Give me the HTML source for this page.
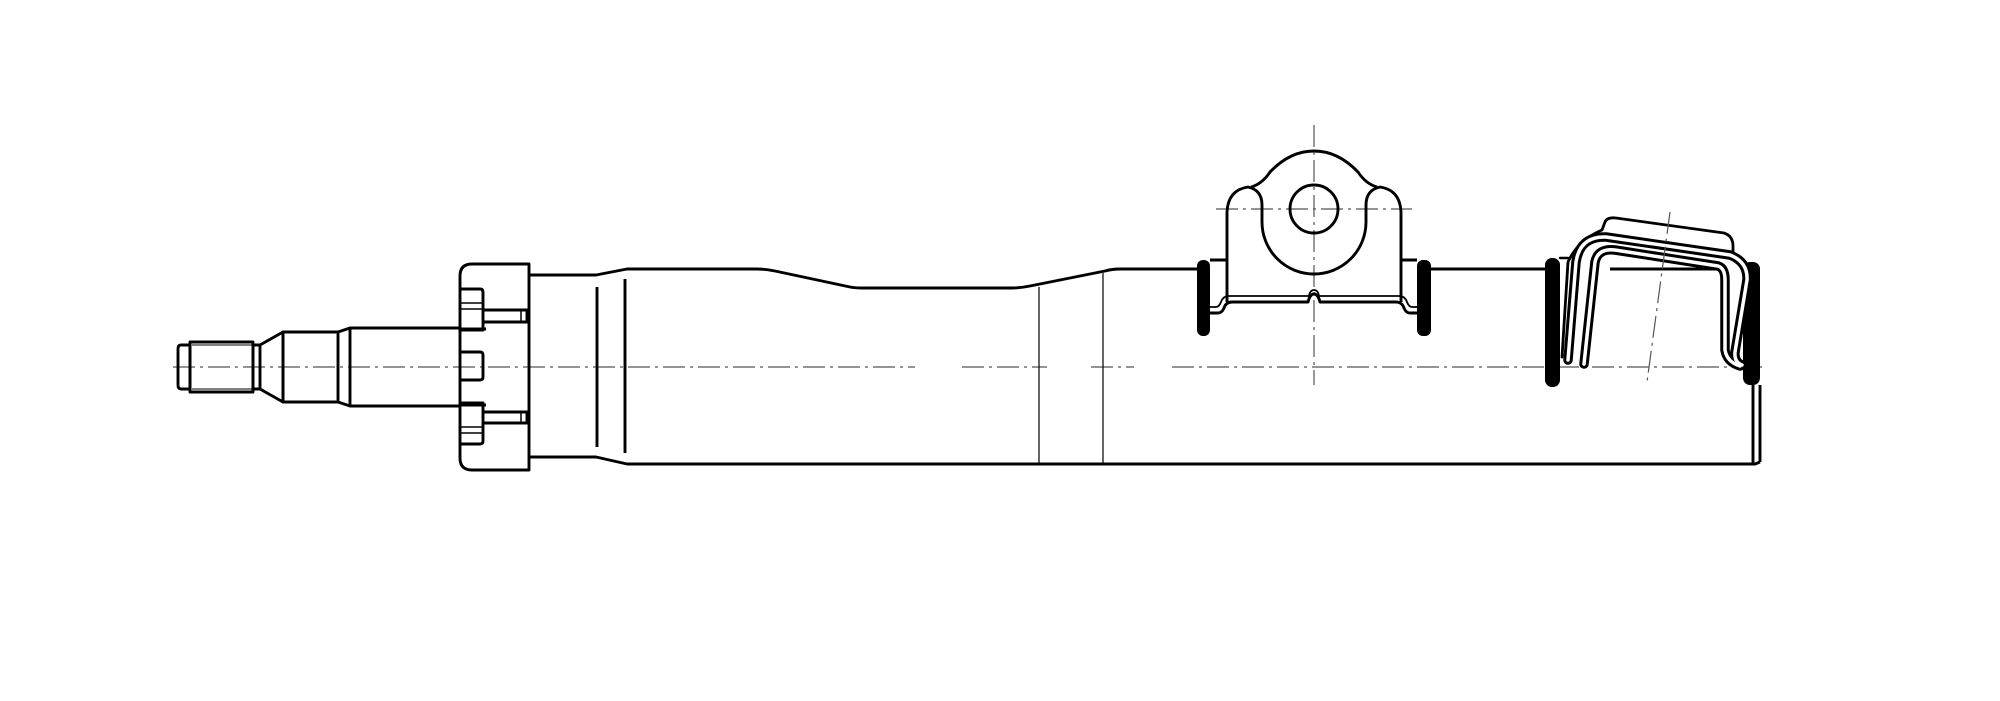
<!DOCTYPE html>
<html><head><meta charset="utf-8"><style>html,body{margin:0;padding:0;background:#fff}svg{display:block}</style></head>
<body>
<svg width="2000" height="701" viewBox="0 0 2000 701" xmlns="http://www.w3.org/2000/svg">
<g fill="none" stroke="#000" stroke-width="2.9" stroke-linejoin="round">
<!-- centerline -->
<line x1="173" y1="367" x2="915" y2="367" stroke="#555" stroke-width="1.3" stroke-dasharray="22,5,3,5"/>
<line x1="962" y1="367" x2="1047" y2="367" stroke="#555" stroke-width="1.3" stroke-dasharray="22,5,3,5"/>
<line x1="1091" y1="367" x2="1134" y2="367" stroke="#555" stroke-width="1.3" stroke-dasharray="22,5,3,5"/>
<line x1="1172" y1="367" x2="1765" y2="367" stroke="#555" stroke-width="1.3" stroke-dasharray="22,5,3,5"/>
<!-- threaded end -->
<path d="M190,345 L181,345 Q178,345 178,349 L178,385 Q178,389 181,389 L190,389 Z"/>
<rect x="190" y="342" width="63" height="50"/>
<line x1="192" y1="345" x2="252" y2="345" stroke-width="1"/>
<line x1="192" y1="389" x2="252" y2="389" stroke-width="1"/>
<rect x="253" y="345" width="7" height="44"/>
<path d="M260,345 L283,332 L283,402 L260,389"/>
<rect x="283" y="332" width="55" height="70"/>
<path d="M338,332 L350,328 L350,406 L338,402"/>
<path d="M350,328 L460,328 M350,406 L460,406"/>
<!-- nut -->
<path d="M529,264 L472,264 Q460,264 460,276 L460,458 Q460,470 472,470 L529,470 Z"/>
<path d="M460,289 L480,289 Q483,289 483,292 L483,330 L460,330"/>
<line x1="460" y1="303" x2="483" y2="303" stroke-width="1.5"/>
<line x1="460" y1="309" x2="483" y2="309" stroke-width="1.5"/>
<path d="M483,310 L527,310 L527,322 L483,322"/>
<line x1="521" y1="310" x2="521" y2="322" stroke-width="1.5"/>
<path d="M460,352 L480,352 Q483,352 483,355 L483,377 Q483,380 480,380 L460,380"/>
<path d="M460,403 L483,403 L483,441 Q483,444 480,444 L460,444"/>
<line x1="460" y1="427" x2="483" y2="427" stroke-width="1.5"/>
<line x1="460" y1="433" x2="483" y2="433" stroke-width="1.5"/>
<path d="M483,412 L527,412 L527,423 L483,423"/>
<line x1="521" y1="412" x2="521" y2="423" stroke-width="1.5"/>
<path d="M460,329 L486,329 M460,405 L486,405" stroke-width="3"/>
<!-- body -->
<path d="M529,275 L596,275 L627,269 L757,269 Q765,269 775,271 L850,287 Q855,288 862,288 L1012,288 Q1020,288 1030,286 L1105,271 Q1112,269 1120,269 L1199,269"/>
<path d="M529,457 L596,457 L627,464 L1755,464 L1760,462"/>
<line x1="597" y1="287" x2="597" y2="447"/>
<line x1="625" y1="279" x2="625" y2="453"/>
<line x1="1039" y1="287" x2="1039" y2="464" stroke-width="1.2"/>
<line x1="1103" y1="273" x2="1103" y2="464" stroke-width="1.2"/>
<line x1="1430" y1="269" x2="1545" y2="269"/>
<line x1="1610" y1="269" x2="1725" y2="269"/>
<path d="M1753,385 L1753,464 M1760,385 L1760,462"/>
<!-- bracket -->
<line x1="1314" y1="125" x2="1314" y2="385" stroke="#555" stroke-width="1.2" stroke-dasharray="22,5,3,5"/>
<line x1="1216" y1="209" x2="1412" y2="209" stroke="#555" stroke-width="1.2" stroke-dasharray="22,5,3,5"/>
<path d="M1227,302 L1227,212 Q1228,190 1248,187 Q1262,190 1262,205 Q1262,218 1262,222 A52,52 0 0 0 1366,222 Q1366,218 1366,205 Q1366,190 1380,187 Q1400,190 1401,212 L1401,302"/>
<path d="M1251,187 Q1262,184 1270,172 Q1290,151 1314,151 Q1338,151 1358,172 Q1366,184 1377,187"/>
<circle cx="1314" cy="209" r="24"/>
<path d="M1210,260 L1227,260 M1401,260 L1417,260"/>
<path d="M1210,313 L1218,313 Q1222,313 1224,308 Q1226,302 1232,302 L1308,302 Q1310,294 1314,294 Q1318,294 1320,302 L1396,302 Q1402,302 1404,308 Q1406,313 1410,313 L1417,313"/>
<path d="M1210,307 L1216,307 Q1219,307 1221,302 Q1223,296 1229,296 L1309,296 Q1310,290 1314,290 Q1318,290 1319,296 L1399,296 Q1405,296 1407,302 Q1409,307 1412,307 L1417,307" stroke-width="1.8"/>
</g>
<!-- seals -->
<g fill="#000">
<rect x="1197" y="260" width="13" height="76" rx="6"/>
<rect x="1417" y="260" width="14" height="76" rx="6"/>
<rect x="1545" y="258" width="15" height="129" rx="7"/>
<rect x="1743" y="262" width="17" height="123" rx="7"/>
</g>
<!-- clip -->
<g fill="none" stroke-linejoin="round" stroke-linecap="round">
<path d="M1562,357 L1568,262 Q1578,240 1602,230 L1605,222 Q1607,217 1616,218 L1724,233 Q1733,236 1733,246 L1733,252" stroke="#000" stroke-width="2.8"/>
<line x1="1560" y1="258" x2="1568" y2="258" stroke="#000" stroke-width="2.4"/>
<g stroke="#000" stroke-width="9.5">
<path d="M1568,360 L1576,262 Q1580,236 1606,237 L1730,255 Q1748,262 1747,280 L1735,352 Q1734,362 1742,365"/>
<path d="M1584,364 L1595,262 Q1598,248 1615,250 L1718,266 Q1725,268 1725,280 L1725,350 Q1727,362 1740,366"/>
</g>
<g stroke="#fff" stroke-width="3.5">
<path d="M1568,360 L1576,262 Q1580,236 1606,237 L1730,255 Q1748,262 1747,280 L1735,352 Q1734,362 1742,365"/>
<path d="M1584,364 L1595,262 Q1598,248 1615,250 L1718,266 Q1725,268 1725,280 L1725,350 Q1727,362 1740,366"/>
</g>
</g>
<line x1="1670" y1="212" x2="1647" y2="382" stroke="#555" stroke-width="1.2" stroke-dasharray="22,5,3,5"/>
</svg>
</body></html>
